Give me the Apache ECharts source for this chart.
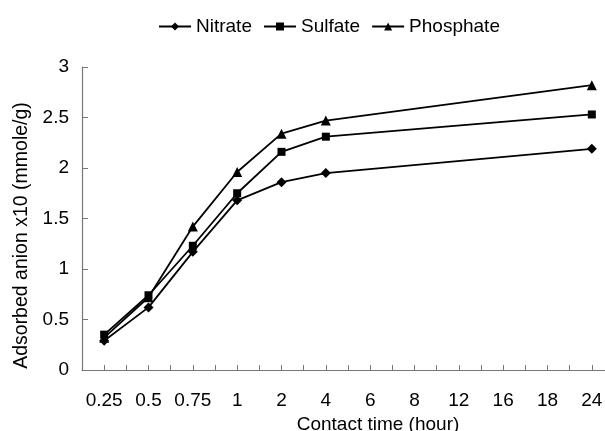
<!DOCTYPE html>
<html>
<head>
<meta charset="utf-8">
<script src="https://cdn.jsdelivr.net/npm/echarts@6/dist/echarts.min.js"></script>
<style>html,body{margin:0;padding:0;background:#fff;}#c{width:605px;height:431px;}</style>
</head>
<body>
<div id="c"></div>
<script>
const categories = ['0.25', '0.5', '0.75', '1', '2', '4', '6', '8', '12', '16', '18', '24'];
const nitrate   = [0.29, 0.62, 1.17, 1.68, 1.86, 1.95, null, null, null, null, null, 2.19];
const sulfate   = [0.35, 0.74, 1.23, 1.75, 2.16, 2.31, null, null, null, null, null, 2.53];
const phosphate = [0.32, 0.72, 1.42, 1.96, 2.34, 2.47, null, null, null, null, null, 2.82];
const yTicks = { min: 0, max: 3, interval: 0.5 };

const font = 'Liberation Sans, Arial, Helvetica, sans-serif';
const chart = echarts.init(document.getElementById('c'), null, { renderer: 'canvas' });
function mk(name, data, symbol, size) {
  return {
    name: name, type: 'line', data: data, connectNulls: true,
    symbol: symbol, symbolSize: size,
    lineStyle: { color: '#000', width: 1.8 },
    itemStyle: { color: '#000' },
    emphasis: { disabled: true }, animation: false
  };
}
chart.setOption({
  animation: false,
  legend: {
    top: 12, left: 153, itemWidth: 32, itemHeight: 10, itemGap: 11,
    textStyle: { fontFamily: font, fontSize: 19, color: '#000' },
    data: ['Nitrate', 'Sulfate', 'Phosphate']
  },
  grid: { left: 82, right: -9, top: 67, bottom: 61, containLabel: false, outerBoundsMode: 'none' },
  xAxis: [{
    type: 'category', data: categories, position: 'bottom',
    axisLine: { lineStyle: { color: '#777', width: 1.2 } },
    axisTick: { show: true, interval: 0, inside: true, length: 5, alignWithLabel: false, lineStyle: { color: '#777' } },
    axisLabel: { interval: 0, margin: 21, fontFamily: font, fontSize: 19, color: '#000' },
    name: 'Contact time (hour)', nameLocation: 'middle', nameGap: 45,
    nameTextStyle: { fontFamily: font, fontSize: 19, color: '#000', padding: [0, 0, 0, 60] }
  }, {
    type: 'category', data: categories, position: 'bottom',
    axisLine: { show: false },
    axisTick: { show: true, interval: 0, inside: true, length: 5, alignWithLabel: true, lineStyle: { color: '#777' } },
    axisLabel: { show: false }
  }],
  yAxis: {
    type: 'value', min: yTicks.min, max: yTicks.max, interval: yTicks.interval,
    splitLine: { show: false },
    axisLine: { show: true, lineStyle: { color: '#777', width: 1.2 } },
    axisTick: { show: true, inside: true, length: 6, lineStyle: { color: '#777' } },
    axisLabel: { margin: 13, fontFamily: font, fontSize: 19, color: '#000' },
    name: 'Adsorbed anion x10 (mmole/g)', nameLocation: 'middle', nameGap: 50,
    nameTextStyle: { fontFamily: font, fontSize: 19.5, color: '#000', padding: [0, 34, 0, 0] }
  },
  series: [
    mk('Nitrate', nitrate, 'diamond', 10),
    mk('Sulfate', sulfate, 'rect', 8),
    mk('Phosphate', phosphate, 'triangle', 10)
  ]
});
</script>
</body>
</html>
